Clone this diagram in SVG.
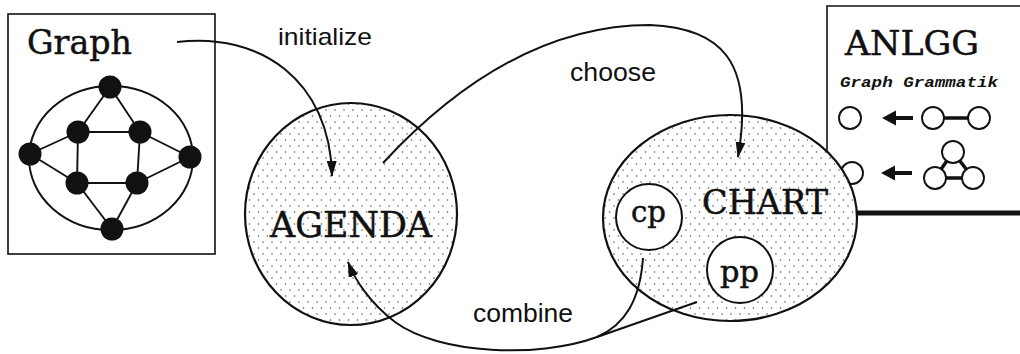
<svg xmlns="http://www.w3.org/2000/svg" width="1020" height="354" viewBox="0 0 1020 354">
  <defs>
    <!-- stippled fill used for the AGENDA and CHART areas -->
    <pattern id="stipple" width="9" height="12" patternUnits="userSpaceOnUse">
      <rect width="9" height="12" fill="#ffffff"/>
      <circle cx="2" cy="2" r="0.8" fill="#555"/>
      <circle cx="6.5" cy="8" r="0.8" fill="#555"/>
    </pattern>
    <marker id="head" markerWidth="16" markerHeight="10" refX="15" refY="5" orient="auto" markerUnits="userSpaceOnUse">
      <path d="M0,0 L16,5 L0,10 Z" fill="#111"/>
    </marker>
    <style>
      .serif { font-family: "DejaVu Serif", "Liberation Serif", serif; fill: #111; stroke: #111; stroke-width: 0.5; }
      .sans { font-family: "Liberation Sans", Arial, sans-serif; fill: #111; }
      .mono { font-family: "Liberation Mono", "Courier New", monospace; font-weight: bold; font-style: italic; fill: #111; }
      .edge { fill: none; stroke: #111; stroke-width: 1.9; }
      .vertex { fill: #111; }
      .area { fill: url(#stipple); stroke: #111; stroke-width: 2.2; }
      .ring { fill: #fff; stroke: #111; stroke-width: 2; }
      .sym { fill: #fff; stroke: #111; stroke-width: 1.9; }
      .conn { fill: none; stroke: #111; stroke-width: 2; }
    </style>
  </defs>

  <rect width="1020" height="354" fill="#ffffff"/>

  <!-- input graph -->
  <g id="graph">
    <rect x="8" y="14" width="207" height="240" fill="none" stroke="#111" stroke-width="1.6"/>
    <text class="serif" x="27" y="54" font-size="34" textLength="105" lengthAdjust="spacingAndGlyphs">Graph</text>
    <ellipse cx="111" cy="158" rx="82" ry="72" class="edge"/>
    <g class="edge">
      <line x1="110" y1="87" x2="78" y2="132"/>
      <line x1="110" y1="87" x2="140" y2="132"/>
      <line x1="78" y1="132" x2="140" y2="132"/>
      <line x1="78" y1="132" x2="77" y2="183"/>
      <line x1="140" y1="132" x2="137" y2="183"/>
      <line x1="77" y1="183" x2="137" y2="183"/>
      <line x1="30" y1="154" x2="78" y2="132"/>
      <line x1="30" y1="154" x2="77" y2="183"/>
      <line x1="190" y1="157" x2="140" y2="132"/>
      <line x1="190" y1="157" x2="137" y2="183"/>
      <line x1="112" y1="229" x2="77" y2="183"/>
      <line x1="112" y1="229" x2="137" y2="183"/>
    </g>
    <circle class="vertex" cx="110" cy="87" r="11.5"/>
    <circle class="vertex" cx="30" cy="154" r="11.5"/>
    <circle class="vertex" cx="190" cy="157" r="11.5"/>
    <circle class="vertex" cx="78" cy="132" r="11.5"/>
    <circle class="vertex" cx="140" cy="132" r="11.5"/>
    <circle class="vertex" cx="77" cy="183" r="11.5"/>
    <circle class="vertex" cx="137" cy="183" r="11.5"/>
    <circle class="vertex" cx="112" cy="229" r="11.5"/>
  </g>

  <!-- graph grammar panel -->
  <g id="anlgg">
    <path d="M827,152 V6 H1020" fill="none" stroke="#111" stroke-width="1.6"/>
    <line x1="840" y1="213" x2="1020" y2="213" stroke="#111" stroke-width="5"/>
    <text class="serif" x="845" y="55" font-size="33" textLength="134" lengthAdjust="spacingAndGlyphs">ANLGG</text>
    <text class="mono" x="840" y="87" font-size="15" textLength="158" lengthAdjust="spacingAndGlyphs">Graph Grammatik</text>
    <!-- rule 1: edge reduces to a node -->
    <circle class="sym" cx="850" cy="118" r="11"/>
    <path d="M913,116 H896 V110.5 L882,118 L896,125.5 V120 H913 Z" fill="#111"/>
    <line x1="944" y1="118" x2="968" y2="118" stroke="#111" stroke-width="3.5"/>
    <circle class="sym" cx="933" cy="118" r="11"/>
    <circle class="sym" cx="979" cy="118" r="11"/>
    <!-- rule 2: triangle reduces to a node -->
    <circle class="sym" cx="852" cy="173" r="11"/>
    <path d="M912,171 H895 V165.5 L881,173 L895,180.5 V175 H912 Z" fill="#111"/>
    <path d="M953,152 L935,178 L973,178 Z" fill="none" stroke="#111" stroke-width="3.5"/>
    <circle class="sym" cx="953" cy="152" r="11"/>
    <circle class="sym" cx="935" cy="178" r="11"/>
    <circle class="sym" cx="973" cy="178" r="11"/>
  </g>

  <!-- agenda -->
  <g id="agenda">
    <ellipse class="area" cx="351" cy="214" rx="106" ry="111"/>
    <text class="serif" x="270" y="237" font-size="36" textLength="162" lengthAdjust="spacingAndGlyphs">AGENDA</text>
  </g>

  <!-- chart with its entries -->
  <g id="chart">
    <ellipse class="area" cx="730" cy="218" rx="127" ry="103"/>
    <text class="serif" x="702" y="214" font-size="34" textLength="126" lengthAdjust="spacingAndGlyphs">CHART</text>
  </g>
  <g id="cp">
    <circle class="ring" cx="649" cy="217" r="33"/>
    <text class="serif" x="631" y="222" font-size="30" textLength="35" lengthAdjust="spacingAndGlyphs">cp</text>
  </g>
  <g id="pp">
    <circle class="ring" cx="740" cy="270" r="33"/>
    <text class="serif" x="720" y="282" font-size="30" textLength="39" lengthAdjust="spacingAndGlyphs">pp</text>
  </g>

  <!-- control flow -->
  <g id="connectors">
    <path class="conn" d="M177,42 C260,32 330,80 332,176" marker-end="url(#head)"/>
    <path class="conn" d="M383,163 C460,80 550,25 650,25 C720,28 755,60 738,157" marker-end="url(#head)"/>
    <path class="conn" d="M643,258 C640,300 625,325 597,337"/>
    <path class="conn" d="M697,302 L597,337"/>
    <path class="conn" d="M597,337 C540,358 440,355 395,322 C370,303 355,280 348,262" marker-end="url(#head)"/>
    <text class="sans" x="278" y="45" font-size="24" textLength="94" lengthAdjust="spacingAndGlyphs">initialize</text>
    <text class="sans" x="570" y="81" font-size="25" textLength="86" lengthAdjust="spacingAndGlyphs">choose</text>
    <text class="sans" x="473" y="322" font-size="25" textLength="100" lengthAdjust="spacingAndGlyphs">combine</text>
  </g>
</svg>
